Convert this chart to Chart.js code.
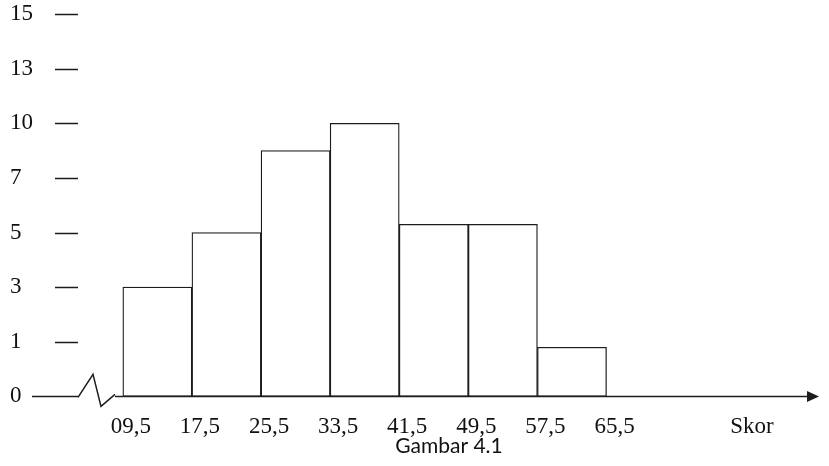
<!DOCTYPE html>
<html>
<head>
<meta charset="utf-8">
<script src="https://cdn.jsdelivr.net/npm/chart.js@4"></script>
<style>
  html, body { margin: 0; padding: 0; background: #fff; }
  #wrap { width: 829px; height: 466px; }
</style>
</head>
<body>
<div id="wrap"><canvas id="histo"></canvas></div>
<script>
// class boundaries and their printed labels
const edges = [9.5, 17.5, 25.5, 33.5, 41.5, 49.5, 57.5, 65.5];
const edgeLabels = ['09,5', '17,5', '25,5', '33,5', '41,5', '49,5', '57,5', '65,5'];
// frequency of each class
const freq = [3, 5, 8.5, 10, 5.3, 5.3, 0.9];
// y labels sit at evenly spaced steps, not at their numeric value
const yTickLabels = [0, 1, 3, 5, 7, 10, 13, 15];

// place a frequency on the evenly spaced y steps
function stepPos(v) {
    for (let i = 1; i < yTickLabels.length; i++) {
        const a = yTickLabels[i - 1], b = yTickLabels[i];
        if (v <= b) return (i - 1) + (v - a) / (b - a);
    }
    return yTickLabels.length - 1;
}

const bars = freq.map((f, i) => ({ x: (edges[i] + edges[i + 1]) / 2, y: stepPos(f) }));

const ink = '#1c1c1c';
const serif = '"Liberation Serif", "Times New Roman", serif';

const axisDecor = {
    id: 'axisDecor',
    afterDraw(chart) {
        const { ctx, chartArea, scales } = chart;
        const x0 = chartArea.left;
        const yb = scales.y.getPixelForValue(0);
        ctx.save();
        ctx.strokeStyle = ink;
        ctx.fillStyle = ink;
        ctx.lineWidth = 1.5;

        // x axis with break mark and arrow
        const tip = chartArea.right;
        ctx.beginPath();
        ctx.moveTo(x0 - 1, yb);
        ctx.lineTo(x0 + 45, yb);
        ctx.moveTo(x0 + 45, yb + 1);
        ctx.lineTo(x0 + 60, yb - 22);
        ctx.lineTo(x0 + 68, yb + 10);
        ctx.lineTo(x0 + 82, yb - 2);
        ctx.moveTo(x0 + 82, yb);
        ctx.lineTo(tip - 10, yb);
        ctx.stroke();
        ctx.beginPath();
        ctx.moveTo(tip, yb);
        ctx.lineTo(tip - 12, yb - 5.5);
        ctx.lineTo(tip - 12, yb + 5.5);
        ctx.closePath();
        ctx.fill();

        // short dashes beside the y labels
        ctx.lineWidth = 1.3;
        ctx.beginPath();
        yTickLabels.forEach((t, i) => {
            if (i === 0) return;
            const y = Math.round(scales.y.getPixelForValue(i)) + 0.5;
            ctx.moveTo(x0 + 22, y);
            ctx.lineTo(x0 + 45, y);
        });
        ctx.stroke();

        // axis name and caption
        ctx.textAlign = 'center';
        ctx.textBaseline = 'alphabetic';
        ctx.font = '23px ' + serif;
        ctx.fillStyle = '#111';
        ctx.fillText('Skor', tip - 67, yb + 37);
        ctx.font = '21px Lato, "Noto Sans", sans-serif';
        ctx.fillText('Gambar 4.1', 449, yb + 57);
        ctx.restore();
    }
};

new Chart(document.getElementById('histo'), {
    type: 'bar',
    data: {
        datasets: [{
            data: bars,
            backgroundColor: '#ffffff',
            borderColor: ink,
            borderWidth: 1.3,
            borderSkipped: false,
            barPercentage: 1,
            categoryPercentage: 1
        }]
    },
    options: {
        responsive: true,
        maintainAspectRatio: false,
        animation: false,
        layout: { padding: { left: 10, right: 10, top: 14, bottom: 9 } },
        plugins: {
            legend: { display: false },
            tooltip: { enabled: false }
        },
        scales: {
            x: {
                type: 'linear',
                offset: false,
                min: -0.9,
                max: 90.1,
                grid: { display: false, drawTicks: false },
                border: { display: false },
                afterBuildTicks: (scale) => {
                    scale.ticks = edges.map(v => ({ value: v }));
                },
                ticks: {
                    autoSkip: false,
                    maxRotation: 0,
                    padding: 16.5,
                    labelOffset: 8,
                    color: '#111',
                    font: { family: serif, size: 23 },
                    callback: (v, i) => edgeLabels[i]
                }
            },
            y: {
                type: 'linear',
                min: 0,
                max: yTickLabels.length - 1,
                grid: { display: false, drawTicks: false },
                border: { display: false },
                ticks: {
                    stepSize: 1,
                    padding: 0,
                    crossAlign: 'far',
                    color: '#111',
                    font: { family: serif, size: 23 },
                    callback: (v) => yTickLabels[v]
                }
            }
        }
    },
    plugins: [axisDecor]
});
</script>
</body>
</html>
